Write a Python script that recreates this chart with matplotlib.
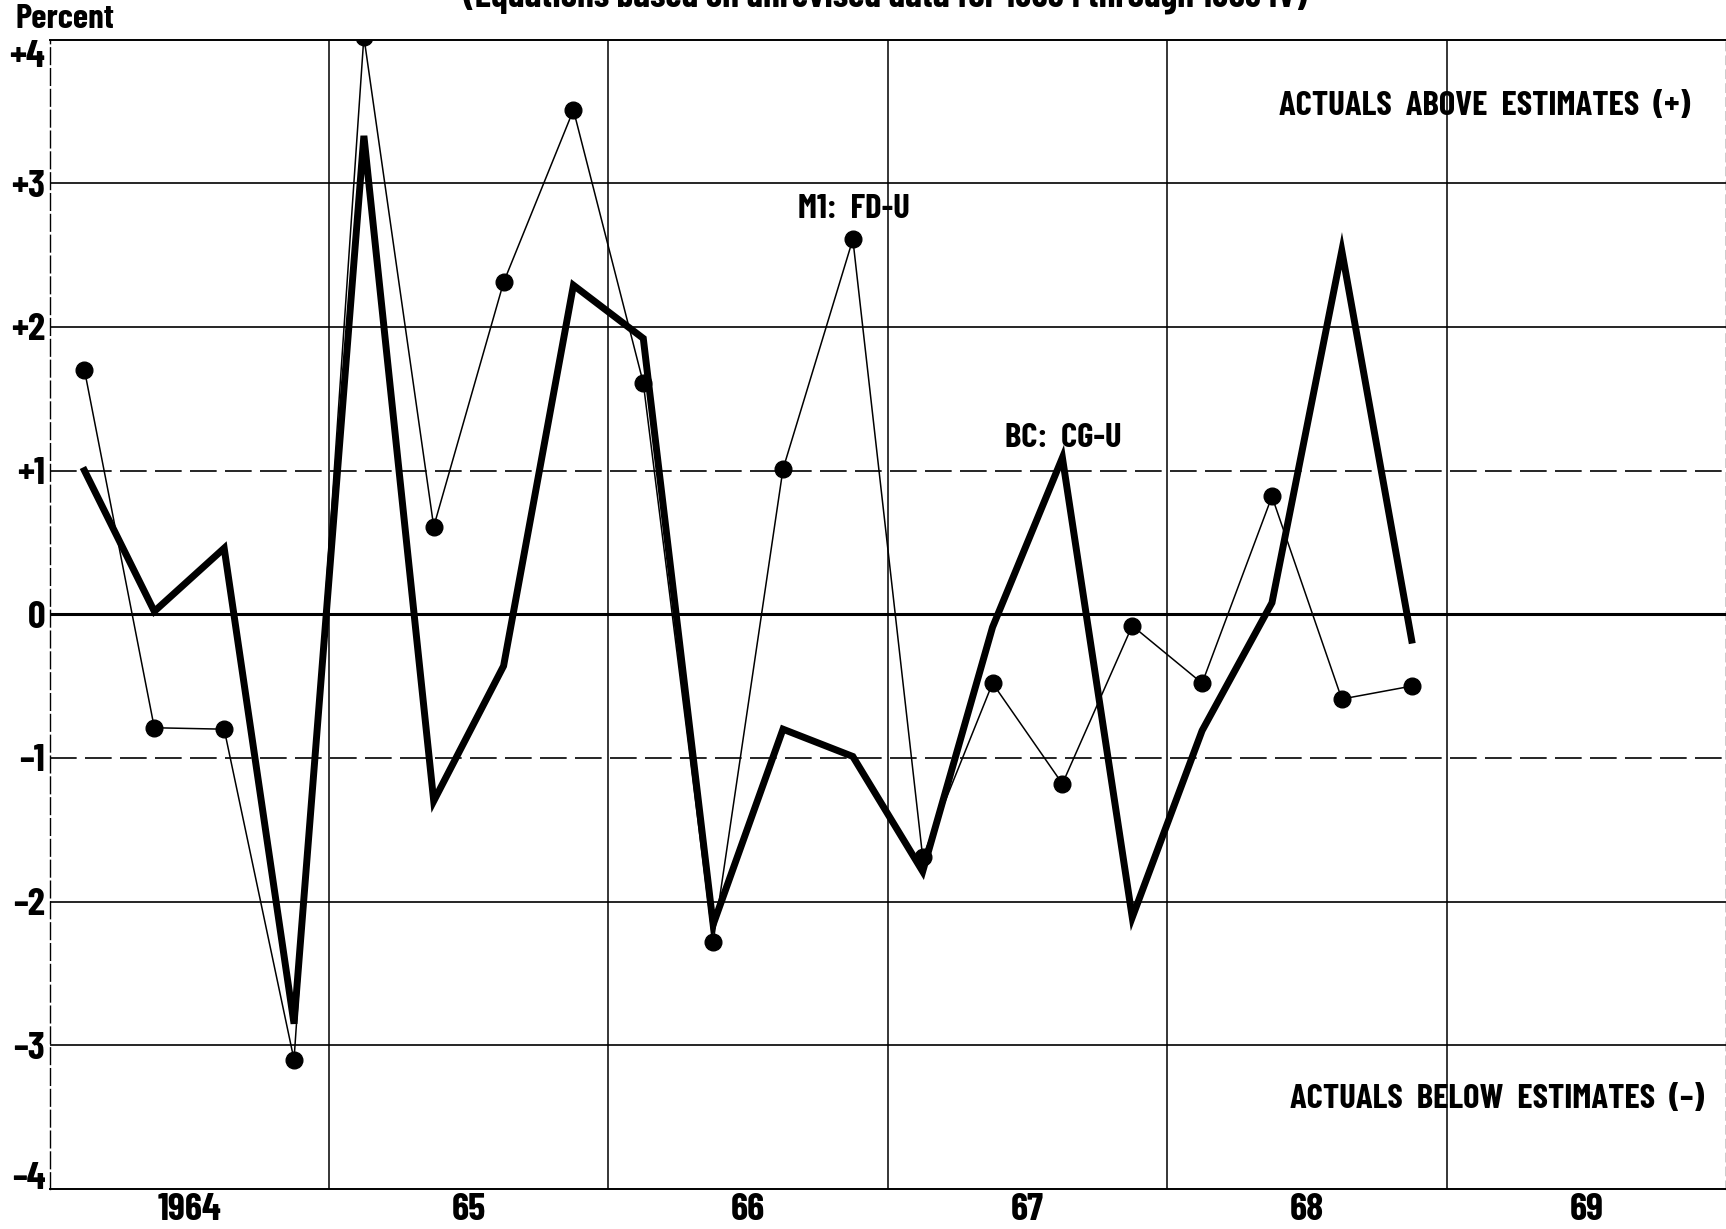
import matplotlib
matplotlib.use("Agg")
import matplotlib.pyplot as plt

# quarterly errors, 1964 I .. 1968 IV (percent, actual minus estimate)
quarters = [1964 + q / 4 + 0.125 for q in range(20)]
m1_fdu = [1.70, -0.79, -0.80, -3.10, 4.02, 0.61, 2.31, 3.51, 1.61, -2.28,
          1.01, 2.61, -1.69, -0.48, -1.18, -0.08, -0.48, 0.82, -0.59, -0.50]
bc_cgu = [1.00, 0.02, 0.46, -2.85, 3.33, -1.30, -0.36, 2.29, 1.92, -2.16,
          -0.80, -0.99, -1.79, -0.09, 1.09, -2.11, -0.81, 0.08, 2.53, -0.18]

year_ticks = [1964.5, 1965.5, 1966.5, 1967.5, 1968.5, 1969.5]
year_labels = ["1964", "65", "66", "67", "68", "69"]
pct_ticks = [4, 3, 2, 1, 0, -1, -2, -3, -4]
pct_labels = ["+4", "+3", "+2", "+1", "0", "\u20131", "\u20132", "\u20133", "\u20134"]

FONT = ["Barlow Condensed", "DejaVu Sans"]
plt.rcParams["font.family"] = FONT
plt.rcParams["font.weight"] = "bold"

fig = plt.figure(figsize=(17.26, 12.29), dpi=100)
ax = fig.add_axes([0.0287, 0.0326, 0.9713, 0.9352])

ax.set_xlim(1964, 1970)
ax.set_ylim(-4, 4)

# grid: year separators and percent lines
for yr in range(1965, 1970):
    ax.axvline(yr, color="black", lw=1.1, zorder=1)
for p in [3, 2, -2, -3]:
    ax.axhline(p, color="black", lw=1.2, zorder=1)
for p in [1, -1]:
    ax.axhline(p, color="black", lw=1.2, dashes=(16, 5), zorder=1)
ax.axhline(0, color="black", lw=2.2, zorder=1)

ax.plot(quarters, m1_fdu, color="black", lw=1.1, marker="o", ms=12, zorder=3)
ax.plot(quarters, bc_cgu, color="black", lw=5, solid_joinstyle="miter", zorder=2)

ax.text(1966.88, 2.82, "M1:  FD-U", ha="center", va="center", fontsize=25, fontweight="bold")
ax.text(1967.63, 1.23, "BC:  CG-U", ha="center", va="center", fontsize=25, fontweight="bold")
ax.text(0.9785, 0.9425, "ACTUALS  ABOVE  ESTIMATES  (+)", transform=ax.transAxes,
        ha="right", va="center", fontsize=25, fontweight="bold")
ax.text(0.987, 0.0786, "ACTUALS  BELOW  ESTIMATES  (\u2013)", transform=ax.transAxes,
        ha="right", va="center", fontsize=25, fontweight="bold")

ax.set_xticks(year_ticks)
ax.set_xticklabels(year_labels, fontsize=28, fontweight="bold")
ax.set_yticks(pct_ticks)
ylabels = ax.set_yticklabels(pct_labels, fontsize=28, fontweight="bold")
# end labels sit inside the frame, as on the original
ylabels[0].set_verticalalignment("top")
ylabels[-1].set_verticalalignment("baseline")
ax.tick_params(length=0, pad=3)

for s in ["top", "bottom"]:
    ax.spines[s].set_linewidth(1.4)
ax.spines["left"].set_linewidth(1.0)
ax.spines["left"].set_linestyle((0, (12, 3)))
ax.spines["right"].set_linewidth(1.0)
ax.spines["right"].set_linestyle((0, (6, 4)))

fig.text(0.009, 0.972, "Percent", ha="left", va="bottom", fontsize=25, fontweight="bold")
fig.text(0.513, 1 - 6 / 1229, "(Equations based on unrevised data for 1953 I through 1963 IV)",
         ha="center", va="baseline", fontsize=27, fontweight="bold")

fig.savefig("out.png", dpi=100)
